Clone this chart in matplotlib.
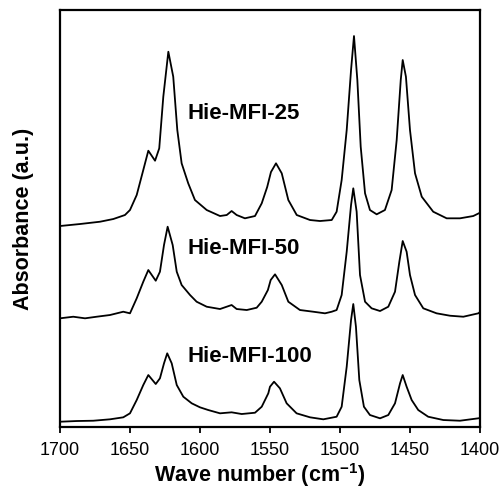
import matplotlib
matplotlib.use("Agg")
import matplotlib.pyplot as plt

plt.rcParams["font.family"] = ["Liberation Sans", "DejaVu Sans"]
plt.rcParams["mathtext.fontset"] = "custom"
plt.rcParams["mathtext.rm"] = "Liberation Sans"
plt.rcParams["mathtext.bf"] = "Liberation Sans:bold"

# Pyridine-IR spectra, stacked (wavenumber in cm-1, absorbance in a.u. incl. offset)
wn_25 = [1700.0, 1685.7, 1671.4, 1661.9, 1653.6, 1650.0, 1645.2, 1640.5, 1636.9,
         1632.1, 1629.1, 1626.2, 1622.6, 1619.1, 1616.2, 1613.1, 1608.4, 1603.6,
         1595.2, 1585.7, 1580.9, 1577.4, 1573.8, 1567.9, 1560.7, 1555.9, 1552.0,
         1549.3, 1545.7, 1541.6, 1536.9, 1530.9, 1521.4, 1514.3, 1505.9, 1502.4,
         1498.8, 1495.2, 1492.1, 1490.0, 1487.6, 1485.2, 1482.1, 1478.6, 1473.8,
         1467.9, 1463.1, 1459.5, 1456.6, 1455.2, 1452.9, 1450.0, 1446.4, 1441.6,
         1433.4, 1423.8, 1414.3, 1404.8, 1400.0]
abs_25 = [2.01, 2.03, 2.053, 2.08, 2.12, 2.17, 2.32, 2.57, 2.763,
          2.663, 2.787, 3.303, 3.753, 3.503, 2.97, 2.637, 2.437, 2.27,
          2.17, 2.11, 2.12, 2.16, 2.12, 2.087, 2.11, 2.237, 2.40,
          2.55, 2.637, 2.537, 2.27, 2.12, 2.07, 2.06, 2.07, 2.153,
          2.47, 2.97, 3.57, 3.91, 3.47, 2.803, 2.337, 2.17, 2.127,
          2.17, 2.37, 2.87, 3.47, 3.67, 3.503, 2.97, 2.537, 2.303,
          2.153, 2.087, 2.087, 2.11, 2.143]

wn_50 = [1700.0, 1690.5, 1682.1, 1673.8, 1664.3, 1654.8, 1650.0, 1645.2, 1640.5,
         1636.9, 1631.6, 1628.6, 1625.7, 1623.1, 1619.5, 1616.6, 1613.1, 1607.1,
         1602.4, 1595.2, 1585.7, 1577.4, 1573.8, 1566.6, 1559.5, 1555.9, 1551.5,
         1549.5, 1546.4, 1541.6, 1536.9, 1528.6, 1519.1, 1510.7, 1505.9, 1502.4,
         1498.8, 1495.2, 1492.1, 1490.5, 1488.1, 1485.7, 1482.1, 1477.4, 1471.4,
         1465.5, 1460.7, 1457.6, 1455.2, 1452.4, 1450.0, 1446.4, 1440.5, 1431.0,
         1421.4, 1411.9, 1401.2, 1400.0]
abs_50 = [1.087, 1.103, 1.087, 1.103, 1.12, 1.153, 1.137, 1.287, 1.453,
          1.57, 1.463, 1.553, 1.82, 2.003, 1.82, 1.553, 1.42, 1.32,
          1.253, 1.203, 1.18, 1.22, 1.18, 1.17, 1.193, 1.253, 1.37,
          1.47, 1.527, 1.42, 1.253, 1.17, 1.153, 1.137, 1.153, 1.17,
          1.32, 1.753, 2.22, 2.387, 2.153, 1.52, 1.253, 1.187, 1.16,
          1.203, 1.353, 1.653, 1.86, 1.753, 1.52, 1.32, 1.187, 1.137,
          1.113, 1.103, 1.137, 1.15]

wn_100 = [1700.0, 1688.1, 1676.2, 1664.3, 1654.8, 1650.0, 1645.2, 1640.5, 1636.9,
          1631.6, 1628.6, 1625.7, 1623.4, 1620.2, 1616.6, 1611.9, 1605.9, 1600.0,
          1594.1, 1585.7, 1577.4, 1570.2, 1560.7, 1555.9, 1551.2, 1550.0, 1547.1,
          1542.9, 1538.1, 1531.0, 1521.4, 1511.9, 1502.4, 1498.8, 1495.2, 1492.1,
          1490.5, 1488.6, 1486.2, 1482.9, 1478.6, 1471.4, 1465.5, 1460.7, 1457.1,
          1455.2, 1452.4, 1448.8, 1444.1, 1437.0, 1426.2, 1414.3, 1401.2, 1400.0]
abs_100 = [0.053, 0.06, 0.063, 0.077, 0.097, 0.137, 0.27, 0.42, 0.52,
           0.43, 0.487, 0.637, 0.737, 0.637, 0.42, 0.303, 0.237, 0.197,
           0.17, 0.137, 0.147, 0.13, 0.143, 0.203, 0.337, 0.403, 0.453,
           0.387, 0.237, 0.137, 0.097, 0.077, 0.103, 0.203, 0.603, 1.07,
           1.23, 1.003, 0.47, 0.203, 0.12, 0.087, 0.12, 0.237, 0.437,
           0.52, 0.403, 0.27, 0.17, 0.103, 0.07, 0.063, 0.087, 0.09]

sample_names = ["Hie-MFI-25", "Hie-MFI-50", "Hie-MFI-100"]
label_wn = [1608.6, 1608.6, 1608.6]
label_abs = [3.08, 1.727, 0.647]

x_ticks = [1700, 1650, 1600, 1550, 1500, 1450, 1400]

fig = plt.figure(figsize=(4.99, 4.91), dpi=100)
ax = fig.add_axes([0.1202, 0.1303, 0.8417, 0.8493])

for wn, ab in [(wn_25, abs_25), (wn_50, abs_50), (wn_100, abs_100)]:
    ax.plot(wn, ab, color="black", lw=1.3, solid_joinstyle="round")

for name, xw, ya in zip(sample_names, label_wn, label_abs):
    ax.text(xw, ya, name, fontsize=16, fontweight="bold", ha="left", va="baseline")

ax.set_xlim(1700, 1400)
ax.set_ylim(0, 4.17)
ax.set_xticks(x_ticks)
ax.set_xticklabels([str(t) for t in x_ticks])
ax.set_yticks([])
ax.tick_params(axis="x", direction="out", length=4, width=1.3, labelsize=13, pad=7)
for sp in ax.spines.values():
    sp.set_linewidth(1.6)

ax.set_xlabel(r"Wave number (cm$^{\mathbf{-1}}$)", fontsize=15.5, fontweight="bold")
ax.xaxis.set_label_coords(0.475, -0.082)
ax.set_ylabel("Absorbance (a.u.)", fontsize=15.5, fontweight="bold", labelpad=19)

fig.savefig("out.png", dpi=100)
